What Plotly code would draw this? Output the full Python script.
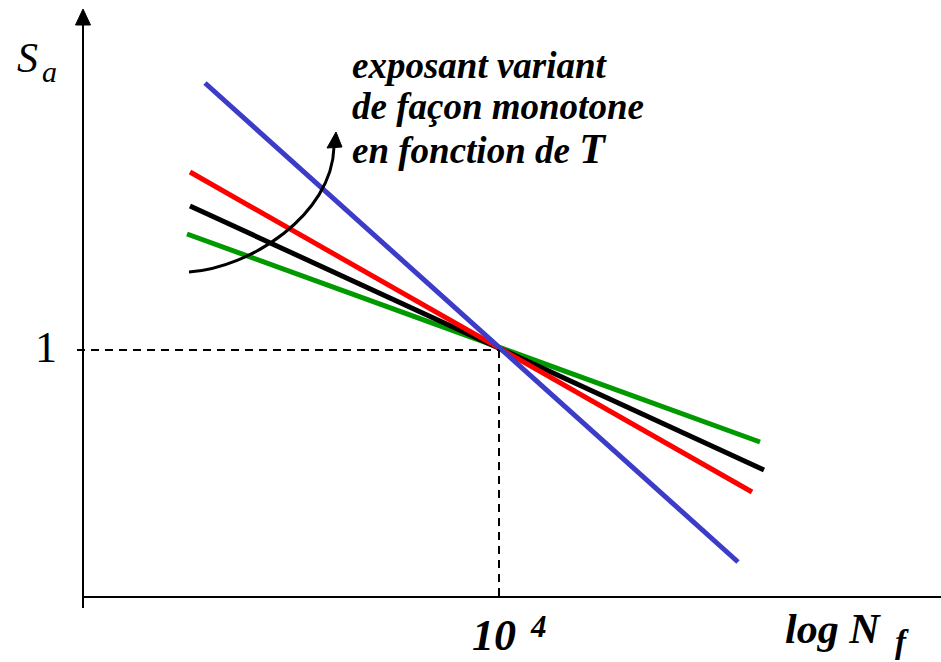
import plotly.graph_objects as go

W, H = 941, 662

# Basquin lines in log-log form: x = log10(N_f), y = log10(S_a); all meet at N_f = 1e4, S_a = 1
log_nf_blue = [1.06, 6.39]
log_sa_blue = [0.267, -0.212]
log_nf_red = [0.91, 6.53]
log_sa_red = [0.178, -0.142]
log_nf_black = [0.91, 6.65]
log_sa_black = [0.144, -0.120]
log_nf_green = [0.88, 6.61]
log_sa_green = [0.116, -0.092]

series_order = [
    ("green", log_nf_green, log_sa_green, "#009a00"),
    ("black", log_nf_black, log_sa_black, "#000000"),
    ("red", log_nf_red, log_sa_red, "#ff0000"),
    ("blue", log_nf_blue, log_sa_blue, "#3c3cc8"),
]

# reference point (N_f = 10^4, S_a = 1)
ref_log_nf = 4.0
ref_log_sa = 0.0

# axis extents in data units
x_range = [-0.99, 8.42]
y_range = [-0.312, 0.35]
axis_origin_x = -0.16
axis_origin_y = -0.247


def px(x):
    return x / W


def py(y):
    return 1 - y / H


fig = go.Figure()

for name, xs, ys, col in series_order:
    fig.add_trace(go.Scatter(x=xs, y=ys, mode="lines", name=name,
                             line=dict(color=col, width=5), hoverinfo="skip"))

shapes = []
# axes
shapes.append(dict(type="line", xref="x", yref="paper", x0=axis_origin_x, x1=axis_origin_x,
                   y0=py(608), y1=py(20), line=dict(color="black", width=2)))
shapes.append(dict(type="line", xref="x", yref="y", x0=axis_origin_x, x1=x_range[1] + 1,
                   y0=axis_origin_y, y1=axis_origin_y, line=dict(color="black", width=2)))
# dashed guides to the reference point
shapes.append(dict(type="line", xref="x", yref="y", x0=axis_origin_x - 0.06, x1=ref_log_nf,
                   y0=ref_log_sa, y1=ref_log_sa, line=dict(color="black", width=2, dash="8px,6px")))
shapes.append(dict(type="line", xref="x", yref="y", x0=ref_log_nf, x1=ref_log_nf,
                   y0=ref_log_sa, y1=axis_origin_y, line=dict(color="black", width=2, dash="8px,6px")))
# arrowheads on the axes
shapes.append(dict(type="path", xref="x", yref="paper", xsizemode="pixel", ysizemode="pixel",
                   xanchor=axis_origin_x, yanchor=py(9), path="M0,0 L-7.5,-16 L7.5,-16 Z",
                   fillcolor="black", line=dict(color="black", width=1)))
shapes.append(dict(type="path", xref="paper", yref="y", xsizemode="pixel", ysizemode="pixel",
                   xanchor=958 / W, yanchor=axis_origin_y, path="M0,0 L-16,7.5 L-16,-7.5 Z",
                   fillcolor="black", line=dict(color="black", width=1)))
# curved arrow showing the exponent trend
shapes.append(dict(type="path", xref="x", yref="y",
                   path="M 0.90,0.078 C 1.51,0.082 2.33,0.135 2.35,0.203",
                   line=dict(color="black", width=3)))
shapes.append(dict(type="path", xref="x", yref="y", xsizemode="pixel", ysizemode="pixel",
                   xanchor=2.37, yanchor=0.218, path="M0,0 L-9,-16 L6,-15 Z",
                   fillcolor="black", line=dict(color="black", width=1)))

serif = "Liberation Serif"
ann = []


def label(text, x, y, size, xanchor="left"):
    ann.append(dict(text=text, xref="paper", yref="paper", x=px(x), y=py(y),
                    xanchor=xanchor, yanchor="middle", showarrow=False,
                    font=dict(family=serif, size=size, color="black")))


label("<i>S</i>", 15, 58, 42)
label("<i>a</i>", 40, 72, 30)
label("1", 45.5, 348, 44, xanchor="center")
label("<b><i>10</i></b>", 494, 635, 44, xanchor="center")
label("<b><i>4</i></b>", 538, 626, 31, xanchor="center")
label("<b><i>log N</i></b>", 833, 629, 42, xanchor="center")
label("<b><i>f</i></b>", 902, 642, 33, xanchor="center")
label("<b><i>exposant variant</i></b>", 350, 65, 37)
label("<b><i>de façon monotone</i></b>", 350, 107, 37)
label("<b><i>en fonction de </i></b><b><i><span style='font-size:42px'>T</span></i></b>", 350, 149, 37)

fig.update_layout(
    width=W, height=H, margin=dict(l=0, r=0, t=0, b=0),
    paper_bgcolor="white", plot_bgcolor="white", showlegend=False,
    xaxis=dict(visible=False, range=x_range, fixedrange=True),
    yaxis=dict(visible=False, range=y_range, fixedrange=True),
    shapes=shapes, annotations=ann,
)

fig.write_html("out.html")
